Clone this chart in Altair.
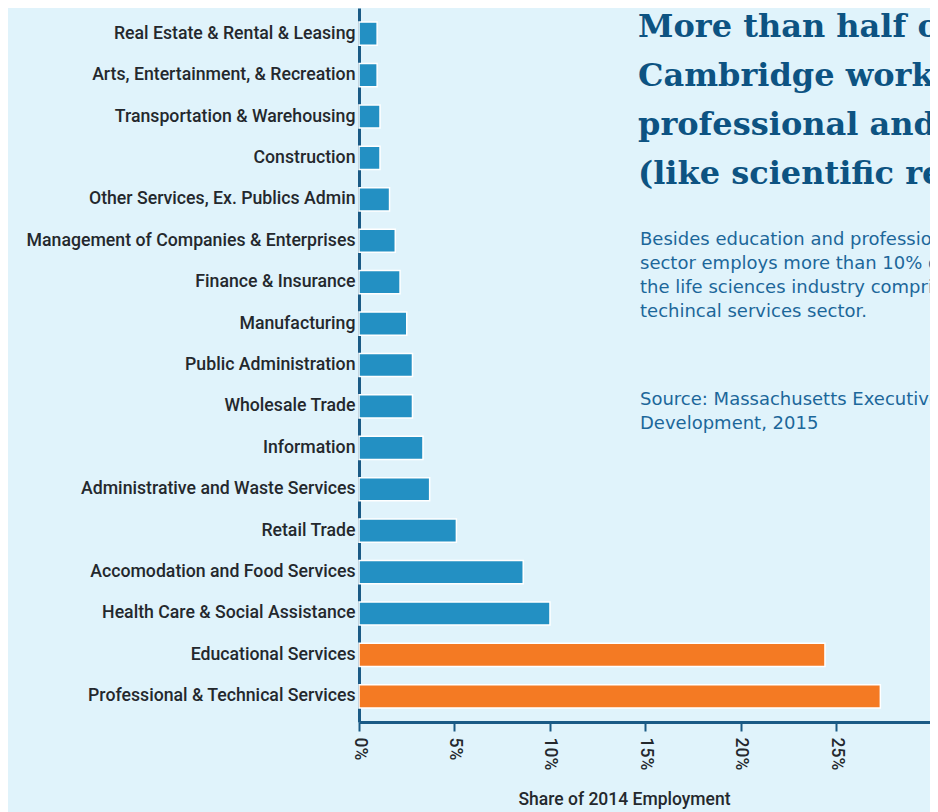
import altair as alt
import pandas as pd

industries = [
    "Real Estate & Rental & Leasing",
    "Arts, Entertainment, & Recreation",
    "Transportation & Warehousing",
    "Construction",
    "Other Services, Ex. Publics Admin",
    "Management of Companies & Enterprises",
    "Finance & Insurance",
    "Manufacturing",
    "Public Administration",
    "Wholesale Trade",
    "Information",
    "Administrative and Waste Services",
    "Retail Trade",
    "Accomodation and Food Services",
    "Health Care & Social Assistance",
    "Educational Services",
    "Professional & Technical Services",
]
shares = [0.95, 0.95, 1.1, 1.1, 1.6, 1.9, 2.15, 2.5, 2.8, 2.8, 3.35, 3.7, 5.1, 8.6, 10.0, 24.4, 27.3]
groups = ["other"] * 15 + ["top", "top"]

x_ticks = [0, 5, 10, 15, 20, 25, 30]

title_lines = [
    "More than half of all",
    "Cambridge workers are employed in",
    "professional and educational services",
    "(like scientific research)",
]
body_lines = [
    "Besides education and professional services, no other",
    "sector employs more than 10% of Cambridge workers;",
    "the life sciences industry comprises much of the professional and",
    "techincal services sector.",
]
source_lines = [
    "Source: Massachusetts Executive Office of Labor and Workforce",
    "Development, 2015",
]

BG = "#e0f3fb"
AXIS = "#1a5a85"
TEXT = "#24282d"
LABEL_FONT = "Roboto"

df = pd.DataFrame({"industry": industries, "share": shares, "group": groups})

bars = alt.Chart(df).mark_bar(stroke="white", strokeWidth=1.5).encode(
    y=alt.Y(
        "industry:N",
        sort=industries,
        scale=alt.Scale(paddingInner=0.44, paddingOuter=0.34),
        axis=alt.Axis(
            title=None,
            domainColor=AXIS,
            domainWidth=3,
            ticks=False,
            labelPadding=4,
            labelFont=LABEL_FONT,
            labelFontSize=17.7,
            labelFontWeight=500,
            labelColor=TEXT,
            labelLimit=400,
        ),
    ),
    x=alt.X(
        "share:Q",
        scale=alt.Scale(domain=[0, 29.9], nice=False, zero=True),
        axis=alt.Axis(
            title="Share of 2014 Employment",
            values=x_ticks,
            labelExpr="datum.value + '%'",
            labelAngle=90,
            labelAlign="left",
            labelBaseline="middle",
            labelPadding=6,
            labelFont=LABEL_FONT,
            labelFontSize=17.5,
            labelFontWeight=500,
            labelColor=TEXT,
            labelBound=False,
            labelOverlap=False,
            domainColor=AXIS,
            domainWidth=3,
            tickColor=AXIS,
            tickWidth=2,
            tickSize=9,
            grid=False,
            titleFont=LABEL_FONT,
            titleFontSize=17.5,
            titleFontWeight=500,
            titleColor=TEXT,
            titleX=265,
            titleY=82,
            titleBaseline="alphabetic",
        ),
    ),
    color=alt.Color(
        "group:N",
        scale=alt.Scale(domain=["other", "top"], range=["#2390c3", "#f47a23"]),
        legend=None,
    ),
)

one = pd.DataFrame({"k": [0]})

title = alt.Chart(one).mark_text(
    font="DejaVu Serif",
    fontWeight="bold",
    fontSize=32,
    color="#0d5382",
    align="left",
    baseline="alphabetic",
    lineHeight=49,
).encode(x=alt.value(279), y=alt.value(29), text=alt.value(title_lines))

body = alt.Chart(one).mark_text(
    font="DejaVu Sans",
    fontSize=18,
    color="#1c679a",
    align="left",
    baseline="alphabetic",
    lineHeight=24,
).encode(x=alt.value(281), y=alt.value(237), text=alt.value(body_lines))

source = alt.Chart(one).mark_text(
    font="DejaVu Sans",
    fontSize=18,
    color="#1c679a",
    align="left",
    baseline="alphabetic",
    lineHeight=24,
).encode(x=alt.value(281), y=alt.value(397), text=alt.value(source_lines))

chart = (
    alt.layer(bars, title, body, source)
    .properties(
        width=571,
        height=714,
        autosize=alt.AutoSizeParams(type="none"),
        padding={"left": 351, "top": 0, "right": 0, "bottom": 90},
        background=BG,
    )
    .configure_view(stroke=None)
)

chart.save("out.html", embed_options={"renderer": "svg", "actions": False})
